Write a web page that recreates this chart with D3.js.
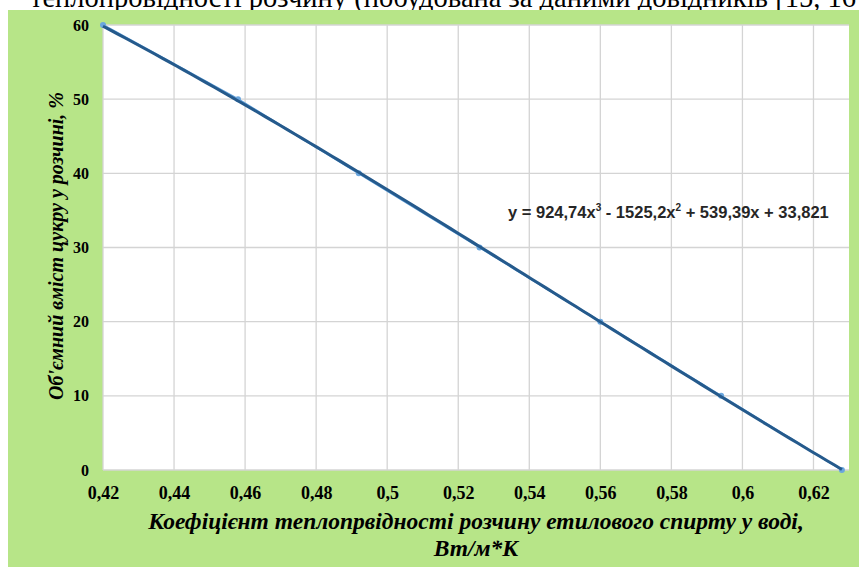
<!DOCTYPE html>
<html>
<head>
<meta charset="utf-8">
<script src="https://cdn.jsdelivr.net/npm/d3@7"></script>
<style>
  body { margin: 0; background: #fff; }
</style>
</head>
<body>
<div id="chart"></div>
<script>
// Data
const conductivity = [0.420, 0.458, 0.492, 0.526, 0.560, 0.594, 0.628]; // Вт/м*К
const sugarPercent = [60, 50, 40, 30, 20, 10, 0];
const xTicks = [0.42, 0.44, 0.46, 0.48, 0.5, 0.52, 0.54, 0.56, 0.58, 0.6, 0.62];
const yTicks = [0, 10, 20, 30, 40, 50, 60];
// polynomial trendline shown on the chart (x^3, x^2, x, 1)
const trendCoef = [924.74, -1525.2, 539.39, 33.821];

const w = 859;
const h = 567;
const plot = { left: 103, right: 849, top: 25, bottom: 470 };

const serif = "'Liberation Serif', 'Times New Roman', serif";
const sans = "'Liberation Sans', Arial, sans-serif";

const uaFormat = d3.formatLocale({ decimal: ",", thousands: " ", grouping: [3], currency: ["", ""] }).format(".2~f");

const x = d3.scaleLinear().domain([0.42, 0.63]).range([plot.left, plot.right]);
const y = d3.scaleLinear().domain([0, 60]).range([plot.bottom, plot.top]);

const svg = d3.select("#chart")
    .append("svg")
    .attr("width", w)
    .attr("height", h);

// caption text cut off at the top of the page (as in the source scan)
svg.append("text")
    .attr("x", 30)
    .attr("y", 7)
    .attr("font-family", serif)
    .attr("font-size", 28.5)
    .text("теплопровідності розчину (побудована за даними довідників [15, 16])");

// green chart area
svg.append("rect")
    .attr("x", 8)
    .attr("y", 10)
    .attr("width", w - 8)
    .attr("height", h - 10)
    .attr("fill", "#b7e588");

// plot area
svg.append("rect")
    .attr("x", plot.left)
    .attr("y", plot.top)
    .attr("width", plot.right - plot.left)
    .attr("height", plot.bottom - plot.top)
    .attr("fill", "#fff");

// gridlines
svg.append("g")
    .selectAll("line")
    .data(xTicks)
    .join("line")
    .attr("x1", d => x(d))
    .attr("x2", d => x(d))
    .attr("y1", plot.top)
    .attr("y2", plot.bottom)
    .attr("stroke", "#d4d4d4")
    .attr("stroke-width", 1.3);

svg.append("g")
    .selectAll("line")
    .data(yTicks)
    .join("line")
    .attr("x1", plot.left)
    .attr("x2", plot.right)
    .attr("y1", d => y(d))
    .attr("y2", d => y(d))
    .attr("stroke", "#d4d4d4")
    .attr("stroke-width", 1.3);

// x axis labels
const xAxis = svg.append("g")
    .attr("transform", `translate(0,${plot.bottom})`)
    .call(d3.axisBottom(x).tickValues(xTicks).tickSize(0).tickPadding(16).tickFormat(uaFormat));
xAxis.select(".domain").remove();
xAxis.attr("font-family", serif);
xAxis.selectAll("text")
    .attr("font-family", serif)
    .attr("font-size", 18)
    .attr("font-weight", "bold")
    .attr("fill", "#000");

// y axis labels
const yAxis = svg.append("g")
    .attr("transform", `translate(${plot.left},0)`)
    .call(d3.axisLeft(y).tickValues(yTicks).tickSize(0).tickPadding(14));
yAxis.select(".domain").remove();
yAxis.attr("font-family", serif);
yAxis.selectAll("text")
    .attr("font-family", serif)
    .attr("font-size", 16)
    .attr("font-weight", "bold")
    .attr("fill", "#000");

// data series (light blue, mostly covered by the trendline)
const pts = conductivity.map((c, i) => [c, sugarPercent[i]]);
svg.append("path")
    .datum(pts)
    .attr("fill", "none")
    .attr("stroke", "#5b9bd5")
    .attr("stroke-width", 2)
    .attr("d", d3.line().x(d => x(d[0])).y(d => y(d[1])));

svg.append("g")
    .selectAll("circle")
    .data(pts)
    .join("circle")
    .attr("cx", d => x(d[0]))
    .attr("cy", d => y(d[1]))
    .attr("r", 3)
    .attr("fill", "#6aa6de");

// polynomial trendline
const poly = v => trendCoef[0] * v * v * v + trendCoef[1] * v * v + trendCoef[2] * v + trendCoef[3];
const xMin = d3.min(conductivity), xMax = d3.max(conductivity);
const trend = d3.range(0, 101).map(i => {
    const v = xMin + (xMax - xMin) * i / 100;
    return [v, poly(v)];
});
svg.append("path")
    .datum(trend)
    .attr("fill", "none")
    .attr("stroke", "#255a8c")
    .attr("stroke-width", 3)
    .attr("d", d3.line().x(d => x(d[0])).y(d => y(d[1])));

// trendline equation
const eq = svg.append("text")
    .attr("x", 508)
    .attr("y", 218)
    .attr("font-family", sans)
    .attr("font-size", 16.5)
    .attr("font-weight", "bold")
    .attr("fill", "#262626");
eq.append("tspan").text("y = 924,74x");
eq.append("tspan").attr("font-size", 10).attr("dy", -7).text("3");
eq.append("tspan").attr("dy", 7).text(" - 1525,2x");
eq.append("tspan").attr("font-size", 10).attr("dy", -7).text("2");
eq.append("tspan").attr("dy", 7).text(" + 539,39x + 33,821");

// axis titles
svg.append("text")
    .attr("transform", "translate(56,246) rotate(-90)")
    .attr("text-anchor", "middle")
    .attr("dy", "0.35em")
    .attr("font-family", serif)
    .attr("font-size", 20)
    .attr("font-weight", "bold")
    .attr("font-style", "italic")
    .text("Об'ємний вміст цукру у розчині, %");

const xTitle = svg.append("text")
    .attr("text-anchor", "middle")
    .attr("font-family", serif)
    .attr("font-size", 23.5)
    .attr("font-weight", "bold")
    .attr("font-style", "italic");
xTitle.append("tspan").attr("x", 476).attr("y", 529).text("Коефіцієнт теплопрвідності розчину етилового спирту у воді,");
xTitle.append("tspan").attr("x", 476).attr("y", 556).text("Вт/м*К");
</script>
</body>
</html>
